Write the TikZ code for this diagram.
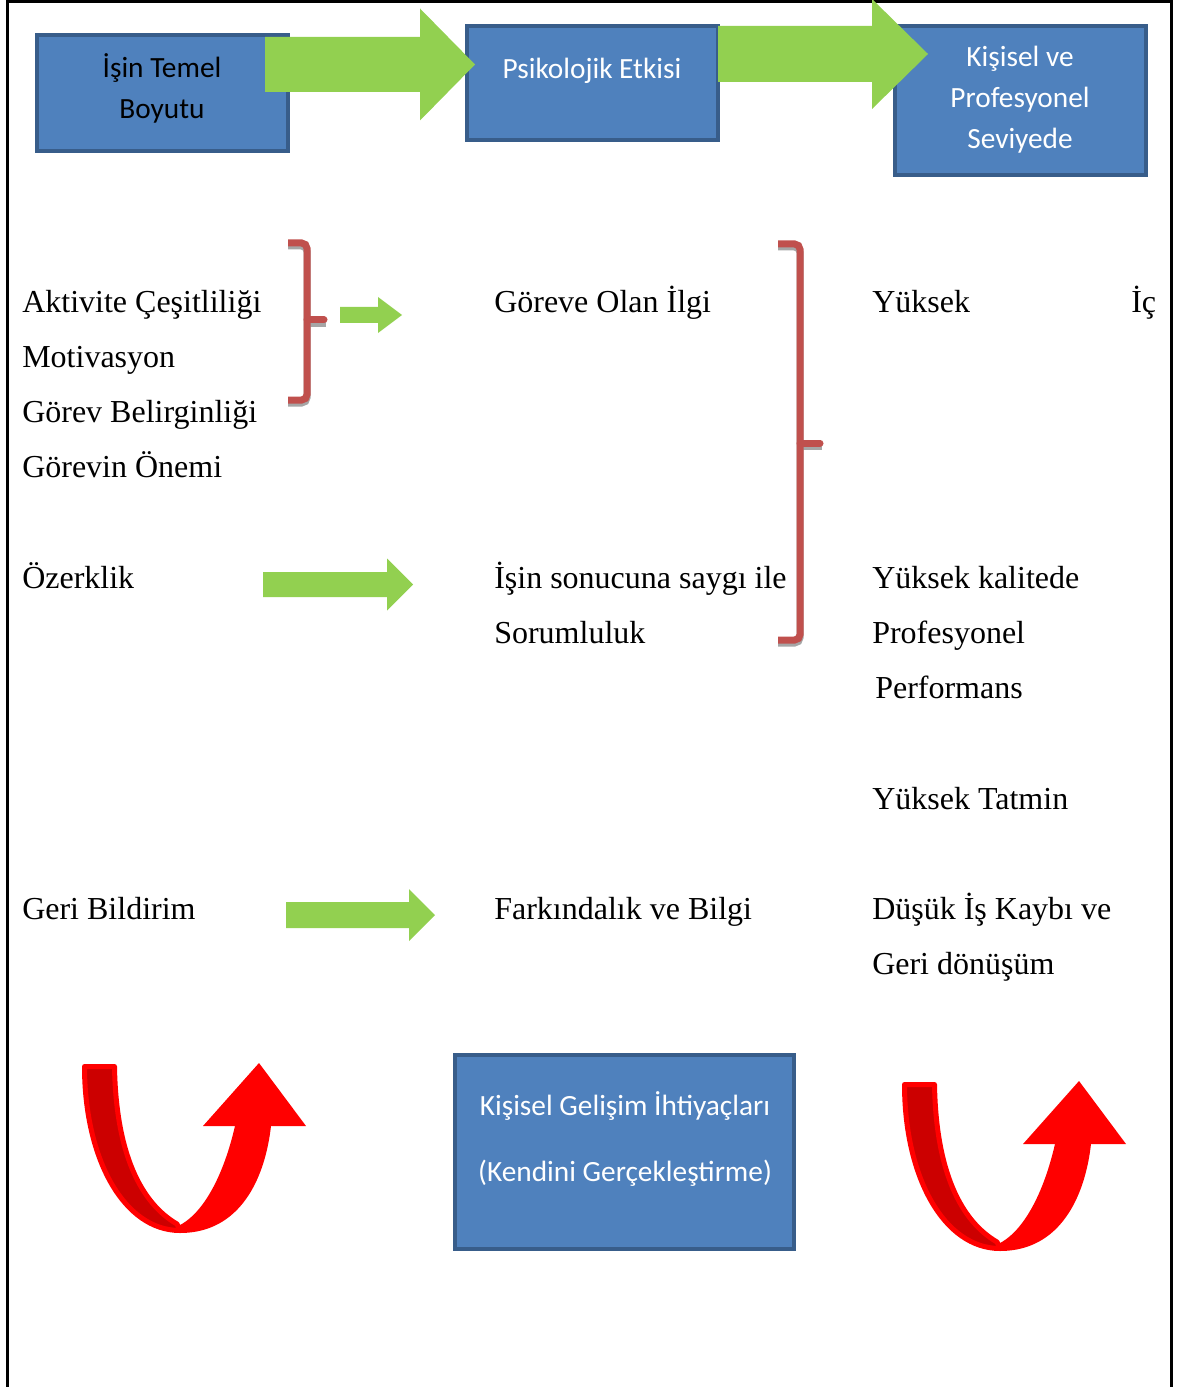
\documentclass[tikz,border=0pt]{standalone}
\usepackage{fontspec}
\setmainfont{Liberation Serif}
\newfontfamily\boxfont{Carlito}

\definecolor{boxblue}{RGB}{79,129,189}
\definecolor{boxedge}{RGB}{56,93,138}
\definecolor{arrowgreen}{RGB}{146,208,80}
\definecolor{bracketred}{RGB}{192,80,77}
\definecolor{turnred}{RGB}{255,0,0}
\definecolor{turndark}{RGB}{204,0,0}

% block arrow: start x, tip x, middle y, half shaft, half head, head length
\newcommand{\blockarrow}[6]{%
  \fill[arrowgreen] (#1,#3-#4) -- (#2-#6,#3-#4) -- (#2-#6,#3-#5) -- (#2,#3)
    -- (#2-#6,#3+#5) -- (#2-#6,#3+#4) -- (#1,#3+#4) -- cycle;}

\tikzset{
  box/.style={draw=boxedge, fill=boxblue, line width=3pt, inner sep=0pt},
  boxtext/.style={text=white, align=center, inner sep=0pt, font=\boxfont\fontsize{22}{30.75}\selectfont},
  txt/.style={anchor=base west, inner sep=0pt, font=\fontsize{24}{28}\selectfont},
  brace/.style={draw=bracketred, line width=5.25pt, rounded corners=4pt},
  braceshadow/.style={draw=black!35, line width=5.25pt, rounded corners=4pt},
  pics/uturn/.style={code={
    \begin{scope}[yscale=-1]
    \draw[draw=turnred, fill=turndark, line width=3.75pt, line join=round]
      (2.5,2.5) -- (32.5,2.5) .. controls (34,90) and (59,139) .. (95,160)
      -- (98,166.5) .. controls (42,166.5) and (2.5,95) .. (2.5,2.5) -- cycle;
    \fill[turnred] (98,169) .. controls (158,169) and (183,115) .. (189,62)
      -- (224,62) -- (177,-1) -- (121,62) -- (153,62)
      .. controls (140,118) and (118,152) .. (96,162) -- cycle;
    \end{scope}
  }}
}

\begin{document}
\begin{tikzpicture}[x=0.75pt,y=0.75pt,yscale=-1,xscale=1]
	\useasboundingbox (0,0) rectangle (1183,1387);
	
	% frame
	\draw[line width=2.25pt] (7,1390) -- (7,2) -- (1171,2) -- (1171,1390);
	
	% top boxes
	\node[box, minimum width=188.25pt, minimum height=87pt] (temel) at (162.5,93) {};
	\node[box, minimum width=188.25pt, minimum height=85.5pt] (etki) at (592.5,83) {};
	\node[box, minimum width=188.25pt, minimum height=111.75pt] (seviye) at (1020.5,100.5) {};
	\node[boxtext, text=black] (temeltxt) at (162,88) {İşin Temel\\Boyutu};
	\node[boxtext] (etkitxt) at (592,71) {Psikolojik Etkisi};
	\node[boxtext] (seviyetxt) at (1020,100) {Kişisel ve\\Profesyonel\\Seviyede};
	
	% big arrows
	\blockarrow{265}{475}{64.5}{27.5}{56}{55}
	\blockarrow{718}{928}{54}{28}{55}{56}
	
	% brackets
	\draw[braceshadow] (288,246) -- (307,246) -- (307,403) -- (288,403);
	\draw[braceshadow] (307,323) -- (326,323);
	\draw[braceshadow] (778,247) -- (800,247) -- (800,643) -- (778,643);
	\draw[braceshadow] (800,446) -- (822,446);
	\draw[brace] (288,243) -- (307,243) -- (307,400) -- (288,400);
	\draw[brace, line cap=round] (307,320) -- (324,320);
	\draw[brace] (778,244) -- (800,244) -- (800,640) -- (778,640);
	\draw[brace, line cap=round] (800,443) -- (820,443);
	
	% small arrows
	\blockarrow{340}{402}{315}{8}{18}{24}
	\blockarrow{263}{413}{584.5}{12.5}{26}{26}
	\blockarrow{286}{435}{915}{13}{26}{26}
	
	% left column
	\node[txt] (aktivite) at (22,312) {Aktivite Çeşitliliği};
	\node[txt] (motivasyon) at (22,367) {Motivasyon};
	\node[txt] (belirginlik) at (22,422) {Görev Belirginliği};
	\node[txt] (onem) at (22,477) {Görevin Önemi};
	\node[txt] (ozerklik) at (22,588) {Özerklik};
	\node[txt] (geribildirim) at (22,919) {Geri Bildirim};
	
	% middle column
	\node[txt] (ilgi) at (494,312) {Göreve Olan İlgi};
	\node[txt] (saygi) at (494,588) {İşin sonucuna saygı ile};
	\node[txt] (sorumluluk) at (494,643) {Sorumluluk};
	\node[txt] (farkindalik) at (494,919) {Farkındalık ve Bilgi};
	
	% right column
	\node[txt] (yuksek) at (872,312) {Yüksek};
	\node[txt] (ic) at (1131,312) {İç};
	\node[txt] (kalite) at (872,588) {Yüksek kalitede};
	\node[txt] (profesyonel) at (872,643) {Profesyonel};
	\node[txt] (performans) at (875,698) {Performans};
	\node[txt] (tatmin) at (872,809) {Yüksek Tatmin};
	\node[txt] (kayip) at (872,919) {Düşük İş Kaybı ve};
	\node[txt] (donusum) at (872,974) {Geri dönüşüm};
	
	% bottom box and u-turns
	\node[box, minimum width=254.25pt, minimum height=145.5pt] (gelisim) at (624.5,1152) {};
	\node[boxtext, font=\boxfont\fontsize{22}{49.5}\selectfont] (gelisimtxt) at (625,1139) {Kişisel Gelişim İhtiyaçları\\(Kendini Gerçekleştirme)};
	\pic at (82,1064) {uturn};
	\pic at (902,1082) {uturn};
	
\end{tikzpicture}
\end{document}
